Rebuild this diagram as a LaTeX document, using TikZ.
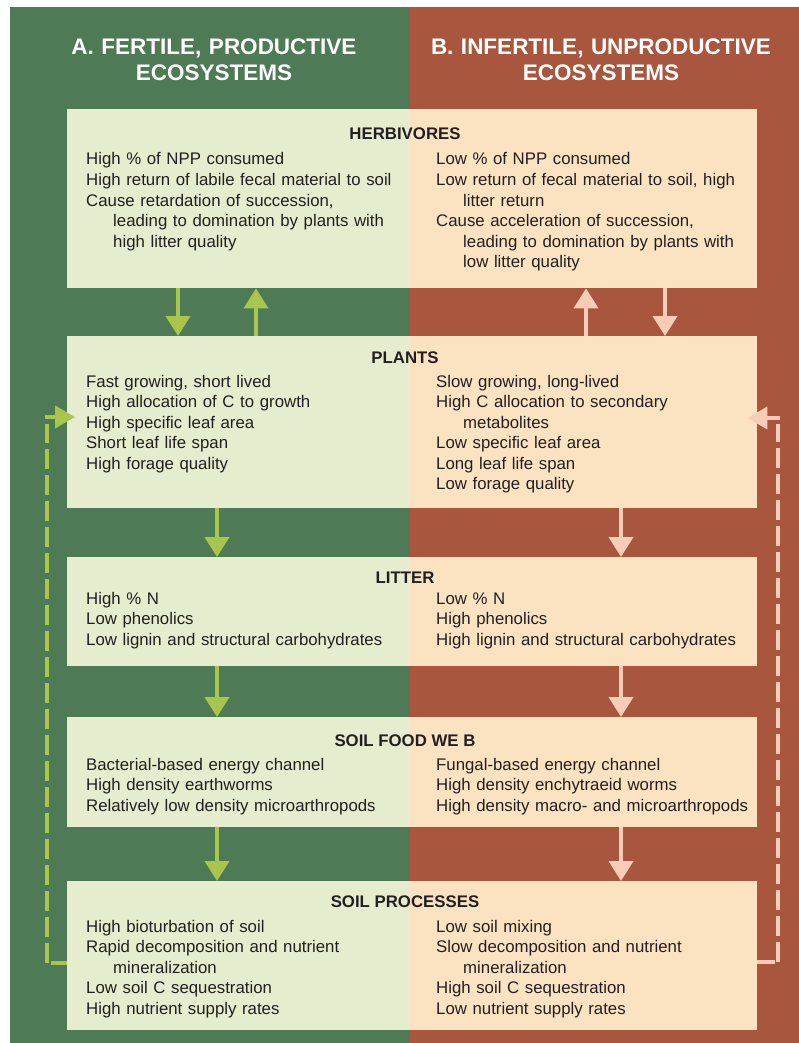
\documentclass[tikz,border=0pt]{standalone}
\usepackage{fontspec}
\setmainfont{Liberation Sans}
\usetikzlibrary{arrows.meta}
\definecolor{bggreen}{RGB}{78,123,85}
\definecolor{bgred}{RGB}{169,86,63}
\definecolor{fillL}{RGB}{230,237,206}
\definecolor{fillR}{RGB}{251,227,194}
\definecolor{arrG}{RGB}{168,198,78}
\definecolor{arrR}{RGB}{247,205,182}
\definecolor{txt}{RGB}{35,31,32}
\tikzset{
  boxL/.style={fill=fillL, draw=none, inner sep=0, anchor=north west},
  boxR/.style={fill=fillR, draw=none, inner sep=0, anchor=north west},
  col/.style={inner sep=0, anchor=base west, text width=330pt, align=left, text=txt,
    font=\fontsize{16.8}{20.5}\selectfont},
  ttl/.style={inner sep=0, anchor=base, text=txt, font=\fontsize{16.8}{20.5}\selectfont\bfseries},
  hdr/.style={inner sep=0, anchor=base, text width=380pt, align=center, text=white,
    font=\fontsize{22.5}{26}\selectfont\bfseries},
  gar/.style={draw=arrG, line width=4pt, -{Triangle[width=24pt,length=20pt]}},
  rar/.style={draw=arrR, line width=4pt, -{Triangle[width=24pt,length=20pt]}},
  gdash/.style={draw=arrG, line width=4pt, dash pattern=on 20pt off 6pt},
  rdash/.style={draw=arrR, line width=4pt, dash pattern=on 20pt off 6pt},
  gstub/.style={draw=arrG, line width=4pt},
  rstub/.style={draw=arrR, line width=4pt},
}
\newcommand{\ind}{\hspace*{27pt}}
\begin{document}
\begin{tikzpicture}[x=1pt,y=-1pt]
\useasboundingbox (0,0) rectangle (799,1043);
\fill[white] (0,0) rectangle (799,1043);
\fill[bggreen] (10,7) rectangle (410,1043);
\fill[bgred] (410,7) rectangle (799,1043);

% headers
\node[hdr] (hA) at (214,55) {A. FERTILE, PRODUCTIVE\\ECOSYSTEMS};
\node[hdr] (hB) at (601,55) {B. INFERTILE, UNPRODUCTIVE\\ECOSYSTEMS};

% boxes
\node[boxL, minimum width=343pt, minimum height=179pt] (herbL) at (67,109) {};
\node[boxR, minimum width=347pt, minimum height=179pt] (herbR) at (410,109) {};
\node[boxL, minimum width=343pt, minimum height=172pt] (plantL) at (67,336) {};
\node[boxR, minimum width=347pt, minimum height=172pt] (plantR) at (410,336) {};
\node[boxL, minimum width=343pt, minimum height=109pt] (litL) at (67,557) {};
\node[boxR, minimum width=347pt, minimum height=109pt] (litR) at (410,557) {};
\node[boxL, minimum width=343pt, minimum height=110pt] (sfwL) at (67,717) {};
\node[boxR, minimum width=347pt, minimum height=110pt] (sfwR) at (410,717) {};
\node[boxL, minimum width=343pt, minimum height=149pt] (spL) at (67,881) {};
\node[boxR, minimum width=347pt, minimum height=149pt] (spR) at (410,881) {};

% titles
\node[ttl] (tHerb) at (405,140) {HERBIVORES};
\node[ttl] (tPlant) at (405,363) {PLANTS};
\node[ttl] (tLit) at (405,583) {LITTER};
\node[ttl] (tSfw) at (405,746) {SOIL FOOD WE B};
\node[ttl] (tSp) at (405,907) {SOIL PROCESSES};

% text columns
\node[col] (cHerbL) at (86,165) {High \% of NPP consumed\\High return of labile fecal material to soil\\Cause retardation of succession,\\\ind leading to domination by plants with\\\ind high litter quality};
\node[col] (cHerbR) at (436,165) {Low \% of NPP consumed\\Low return of fecal material to soil, high\\\ind litter return\\Cause acceleration of succession,\\\ind leading to domination by plants with\\\ind low litter quality};
\node[col] (cPlantL) at (86,387) {Fast growing, short lived\\High allocation of C to growth\\High specific leaf area\\Short leaf life span\\High forage quality};
\node[col] (cPlantR) at (436,387) {Slow growing, long-lived\\High C allocation to secondary\\\ind metabolites\\Low specific leaf area\\Long leaf life span\\Low forage quality};
\node[col] (cLitL) at (86,604) {High \% N\\Low phenolics\\Low lignin and structural carbohydrates};
\node[col] (cLitR) at (436,604) {Low \% N\\High phenolics\\High lignin and structural carbohydrates};
\node[col] (cSfwL) at (86,770) {Bacterial-based energy channel\\High density earthworms\\Relatively low density microarthropods};
\node[col] (cSfwR) at (436,770) {Fungal-based energy channel\\High density enchytraeid worms\\High density macro- and microarthropods};
\node[col] (cSpL) at (86,932) {High bioturbation of soil\\Rapid decomposition and nutrient\\\ind mineralization\\Low soil C sequestration\\High nutrient supply rates};
\node[col] (cSpR) at (436,932) {Low soil mixing\\Slow decomposition and nutrient\\\ind mineralization\\High soil C sequestration\\Low nutrient supply rates};

% arrows between boxes
\draw[gar] (herbL.south -| 178,0) -- (plantL.north -| 178,0);
\draw[gar] (plantL.north -| 256,0) -- (herbL.south -| 256,0);
\draw[rar] (plantR.north -| 586,0) -- (herbR.south -| 586,0);
\draw[rar] (herbR.south -| 665,0) -- (plantR.north -| 665,0);
\draw[gar] (plantL.south -| 217,0) -- (litL.north -| 217,0);
\draw[rar] (plantR.south -| 621,0) -- (litR.north -| 621,0);
\draw[gar] (litL.south -| 217,0) -- (sfwL.north -| 217,0);
\draw[rar] (litR.south -| 621,0) -- (sfwR.north -| 621,0);
\draw[gar] (sfwL.south -| 217,0) -- (spL.north -| 217,0);
\draw[rar] (sfwR.south -| 621,0) -- (spR.north -| 621,0);

% feedback loops
\coordinate (lb) at (47,963);
\coordinate (lt) at (47,424);
\coordinate (la) at (45,417);
\coordinate (rb) at (778,962);
\coordinate (rt) at (778,424);
\coordinate (ra) at (780,418);
\draw[gstub] (spL.west |- 0,963) -- (51,963);
\draw[gdash] (lb) -- (lt);
\draw[gar, -{Triangle[width=22pt,length=20pt]}] (la) -- ([xshift=8pt]plantL.west |- la);
\draw[rstub] (spR.east |- 0,962) -- (775,962);
\draw[rdash] (rb) -- (rt);
\draw[rar, -{Triangle[width=22pt,length=20pt]}] (ra) -- ([xshift=-10pt]plantR.east |- ra);
\end{tikzpicture}
\end{document}
